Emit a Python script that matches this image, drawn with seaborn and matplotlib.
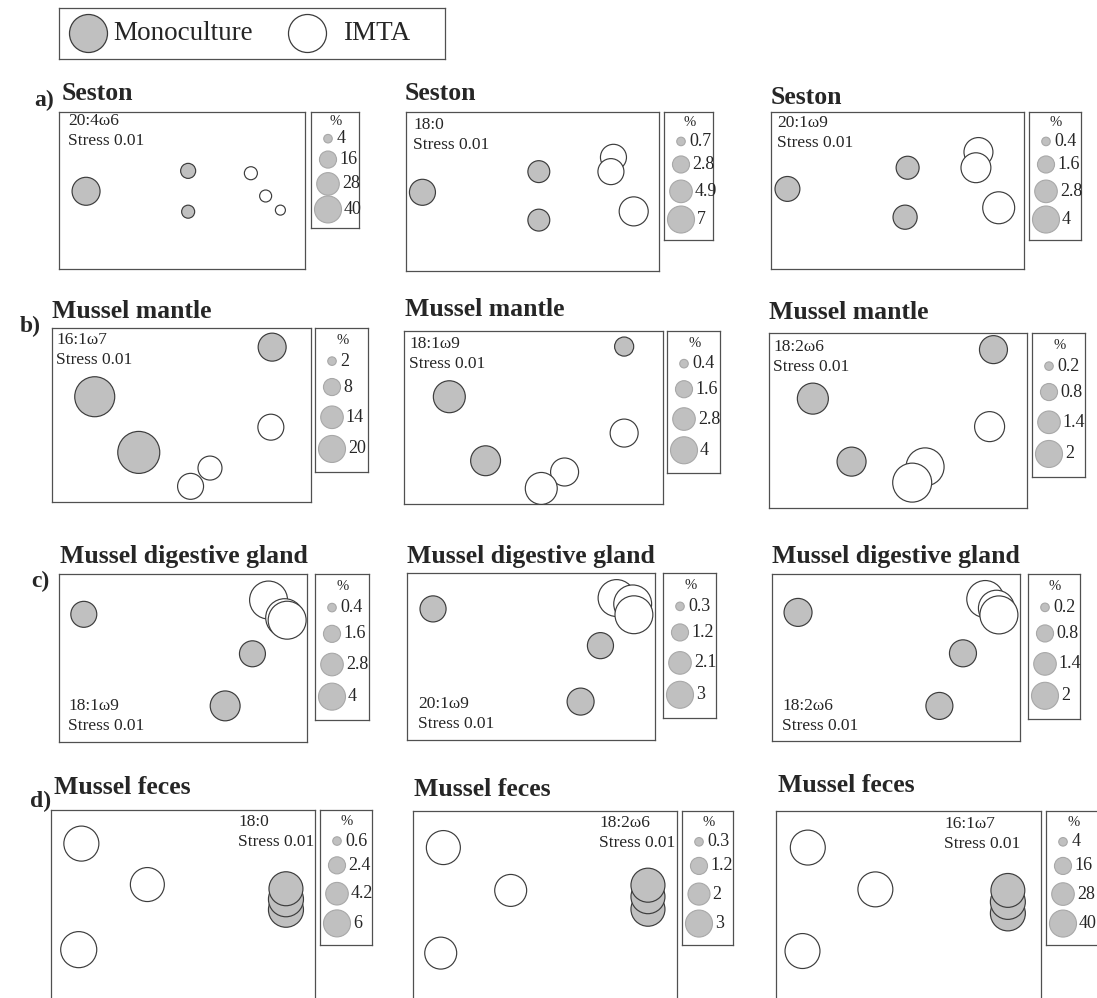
import numpy as np
import pandas as pd
import matplotlib
matplotlib.use("Agg")
import matplotlib.pyplot as plt
import seaborn as sns

sns.set_theme(style="white")
plt.rcParams["font.family"] = ["Liberation Serif", "DejaVu Serif"]

# ---------------------------------------------------------------- data
GROUP_NAMES = {"M": "Monoculture", "I": "IMTA"}

row_titles = ["Seston", "Mussel mantle", "Mussel digestive gland", "Mussel feces"]
row_tags = ["a)", "b)", "c)", "d)"]

fatty_acids = [["20:4ω6", "18:0", "20:1ω9"],
               ["16:1ω7", "18:1ω9", "18:2ω6"],
               ["18:1ω9", "20:1ω9", "18:2ω6"],
               ["18:0", "18:2ω6", "16:1ω7"]]
stress = "Stress 0.01"

# NMDS scores and fatty-acid percentages per sample
a1_nmds1 = [-0.78, 0.05, 0.05, 0.56, 0.68, 0.80]
a1_nmds2 = [-0.01, 0.25, -0.27, 0.22, -0.07, -0.25]
a1_pct = [43.0, 12.4, 9.3, 9.3, 7.9, 5.5]
a1_group = ["M", "M", "M", "I", "I", "I"]

a2_nmds1 = [-0.87, 0.05, 0.05, 0.64, 0.62, 0.80]
a2_nmds2 = [-0.01, 0.25, -0.36, 0.43, 0.25, -0.25]
a2_pct = [6.5, 4.6, 4.6, 6.5, 6.5, 8.1]
a2_group = ["M", "M", "M", "I", "I", "I"]

a3_nmds1 = [-0.87, 0.08, 0.06, 0.64, 0.62, 0.80]
a3_nmds2 = [0.02, 0.29, -0.34, 0.49, 0.29, -0.22]
a3_pct = [3.4, 2.9, 3.2, 4.6, 4.9, 5.6]
a3_group = ["M", "M", "M", "I", "I", "I"]

b1_nmds1 = [0.70, -0.67, -0.33, 0.69, 0.22, 0.07]
b1_nmds2 = [0.78, 0.21, -0.43, -0.14, -0.61, -0.82]
b1_pct = [21.5, 43.9, 48.4, 18.5, 15.8, 18.5]
b1_group = ["M", "M", "M", "I", "I", "I"]

b2_nmds1 = [0.70, -0.65, -0.37, 0.70, 0.24, 0.06]
b2_nmds2 = [0.82, 0.24, -0.50, -0.18, -0.63, -0.82]
b2_pct = [2.0, 5.6, 4.9, 4.3, 4.3, 5.6]
b2_group = ["M", "M", "M", "I", "I", "I"]

b3_nmds1 = [0.74, -0.66, -0.36, 0.71, 0.21, 0.11]
b3_nmds2 = [0.81, 0.25, -0.47, -0.07, -0.53, -0.71]
b3_pct = [2.15, 2.64, 2.31, 2.47, 3.96, 4.17]
b3_group = ["M", "M", "M", "I", "I", "I"]

c1_nmds1 = [-0.80, 0.56, 0.34, 0.69, 0.82, 0.84]
c1_nmds2 = [0.52, 0.05, -0.57, 0.69, 0.48, 0.45]
c1_pct = [3.7, 3.7, 4.9, 7.9, 7.9, 7.9]
c1_group = ["M", "M", "M", "I", "I", "I"]

c2_nmds1 = [-0.79, 0.56, 0.40, 0.69, 0.82, 0.83]
c2_nmds2 = [0.57, 0.13, -0.54, 0.70, 0.63, 0.50]
c2_pct = [2.8, 2.8, 3.0, 5.6, 5.9, 5.9]
c2_group = ["M", "M", "M", "I", "I", "I"]

c3_nmds1 = [-0.79, 0.54, 0.35, 0.72, 0.81, 0.83]
c3_nmds2 = [0.54, 0.05, -0.58, 0.70, 0.59, 0.51]
c3_pct = [2.15, 2.0, 2.0, 3.76, 3.56, 3.96]
c3_group = ["M", "M", "M", "I", "I", "I"]

d1_nmds1 = [-0.77, -0.27, -0.79, 0.78, 0.78, 0.78]
d1_nmds2 = [0.68, 0.29, -0.33, 0.05, 0.15, 0.25]
d1_pct = [10.1, 9.5, 10.7, 10.1, 10.1, 9.5]
d1_group = ["I", "I", "I", "M", "M", "M"]

d2_nmds1 = [-0.77, -0.26, -0.79, 0.78, 0.78, 0.78]
d2_nmds2 = [0.65, 0.24, -0.36, 0.06, 0.18, 0.29]
d2_pct = [4.76, 4.2, 4.2, 4.76, 4.76, 4.76]
d2_group = ["I", "I", "I", "M", "M", "M"]

d3_nmds1 = [-0.76, -0.25, -0.80, 0.75, 0.75, 0.75]
d3_nmds2 = [0.65, 0.25, -0.34, 0.02, 0.13, 0.24]
d3_pct = [67.0, 67.0, 67.0, 67.0, 67.0, 63.0]
d3_group = ["I", "I", "I", "M", "M", "M"]

# bubble-size keys
a1_keys = ["4", "16", "28", "40"]
a2_keys = ["0.7", "2.8", "4.9", "7"]
a3_keys = ["0.4", "1.6", "2.8", "4"]
b1_keys = ["2", "8", "14", "20"]
b2_keys = ["0.4", "1.6", "2.8", "4"]
b3_keys = ["0.2", "0.8", "1.4", "2"]
c1_keys = ["0.4", "1.6", "2.8", "4"]
c2_keys = ["0.3", "1.2", "2.1", "3"]
c3_keys = ["0.2", "0.8", "1.4", "2"]
d1_keys = ["0.6", "2.4", "4.2", "6"]
d2_keys = ["0.3", "1.2", "2", "3"]
d3_keys = ["4", "16", "28", "40"]

samples = {
    "a1": (a1_nmds1, a1_nmds2, a1_pct, a1_group, a1_keys),
    "a2": (a2_nmds1, a2_nmds2, a2_pct, a2_group, a2_keys),
    "a3": (a3_nmds1, a3_nmds2, a3_pct, a3_group, a3_keys),
    "b1": (b1_nmds1, b1_nmds2, b1_pct, b1_group, b1_keys),
    "b2": (b2_nmds1, b2_nmds2, b2_pct, b2_group, b2_keys),
    "b3": (b3_nmds1, b3_nmds2, b3_pct, b3_group, b3_keys),
    "c1": (c1_nmds1, c1_nmds2, c1_pct, c1_group, c1_keys),
    "c2": (c2_nmds1, c2_nmds2, c2_pct, c2_group, c2_keys),
    "c3": (c3_nmds1, c3_nmds2, c3_pct, c3_group, c3_keys),
    "d1": (d1_nmds1, d1_nmds2, d1_pct, d1_group, d1_keys),
    "d2": (d2_nmds1, d2_nmds2, d2_pct, d2_group, d2_keys),
    "d3": (d3_nmds1, d3_nmds2, d3_pct, d3_group, d3_keys),
}

# ---------------------------------------------------------------- layout (pixels)
W, H = 1097, 998
DPI = 100
fig = plt.figure(figsize=(W / DPI, H / DPI), dpi=DPI)

# plot box, key box, title anchor, label anchor
layout = {
    "a1": dict(box=(59, 112, 305, 269), key=(311, 112, 359, 228), title=(62, 93), fa=(68, 121)),
    "a2": dict(box=(406, 112, 659, 271), key=(664, 112, 713, 240), title=(405, 93), fa=(413, 125)),
    "a3": dict(box=(771, 112, 1024, 269), key=(1029, 112, 1081, 240), title=(771, 98), fa=(777, 123)),
    "b1": dict(box=(52, 328, 311, 502), key=(315, 328, 368, 472), title=(52, 311), fa=(56, 340)),
    "b2": dict(box=(404, 331, 663, 504), key=(667, 331, 720, 473), title=(405, 310), fa=(409, 344)),
    "b3": dict(box=(769, 333, 1027, 508), key=(1032, 333, 1085, 477), title=(769, 313), fa=(773, 347)),
    "c1": dict(box=(59, 574, 307, 742), key=(315, 574, 369, 720), title=(60, 557), fa=(68, 706)),
    "c2": dict(box=(407, 573, 655, 740), key=(663, 573, 716, 718), title=(407, 557), fa=(418, 704)),
    "c3": dict(box=(772, 574, 1020, 741), key=(1028, 574, 1080, 719), title=(772, 557), fa=(782, 706)),
    "d1": dict(box=(51, 810, 315, 1020), key=(320, 810, 372, 945), title=(54, 788), fa=(238, 822)),
    "d2": dict(box=(413, 811, 677, 1020), key=(682, 811, 733, 945), title=(414, 790), fa=(599, 823)),
    "d3": dict(box=(776, 811, 1041, 1020), key=(1046, 811, 1100, 945), title=(778, 785), fa=(944, 824)),
}
tag_pos = [(44, 100), (30, 326), (40, 581), (41, 801)]

FILL = "#c0c0c0"
EDGE = "#3c3c3c"
KEY_EDGE = "#a8a8a8"
FRAME = "#505050"
PALETTE = {"Monoculture": FILL, "IMTA": "white"}

R_KEY_PX = 13.5                       # radius of the largest key bubble
S_KEY = (2 * R_KEY_PX * 72 / DPI) ** 2  # marker area (pt^2) of the largest key
STRETCH = 3.0                          # headroom so bubbles above the key maximum are not clipped
KEY_FRAC = [0.23, 0.41, 0.62, 0.84]


def px_axes(l, t, r, b):
    return fig.add_axes([l / W, 1 - b / H, (r - l) / W, (b - t) / H])


def ftext(x, y, s, **kw):
    fig.text(x / W, 1 - y / H, s, **kw)


def style_frame(ax, lw=0.9):
    ax.set(xlabel="", ylabel="", xticks=[], yticks=[])
    for sp in ax.spines.values():
        sp.set_visible(True)
        sp.set_color(FRAME)
        sp.set_linewidth(lw)
    ax.set_facecolor("none")


for row in range(4):
    ftext(*tag_pos[row], row_tags[row], fontsize=17, fontweight="bold", ha="center", va="center")
    for col in range(3):
        key = "abcd"[row] + str(col + 1)
        nm1, nm2, pct, grp, keys = samples[key]
        lay = layout[key]
        key_vals = [float(k) for k in keys]
        vmax = max(key_vals)
        norm = (0, vmax * STRETCH)
        sizes = (0, S_KEY * STRETCH)

        # ordination panel
        ax = px_axes(*lay["box"])
        df = pd.DataFrame({"NMDS1": nm1, "NMDS2": nm2, "pct": pct,
                           "group": [GROUP_NAMES[g] for g in grp]})
        sns.scatterplot(data=df, x="NMDS1", y="NMDS2", hue="group", size="pct",
                        palette=PALETTE, sizes=sizes, size_norm=norm,
                        edgecolor=EDGE, linewidth=0.85, legend=False,
                        clip_on=False, ax=ax, zorder=3)
        ax.set_xlim(-1, 1)
        ax.set_ylim(-1, 1)
        style_frame(ax)

        ftext(*lay["title"], row_titles[row], fontsize=18.5, fontweight="bold",
              ha="left", va="center")
        fx, fy = lay["fa"]
        ftext(fx, fy, fatty_acids[row][col], fontsize=12.5, ha="left", va="center")
        ftext(fx, fy + 20, stress, fontsize=12.5, ha="left", va="center")

        # bubble-size key
        kl, kt, kr, kb = lay["key"]
        kax = px_axes(kl, kt, kr, kb)
        kw, kh = kr - kl, kb - kt
        kdf = pd.DataFrame({"x": [17] * 4, "y": [f * kh for f in KEY_FRAC],
                            "pct": key_vals, "group": ["Monoculture"] * 4})
        sns.scatterplot(data=kdf, x="x", y="y", hue="group", size="pct",
                        palette=PALETTE, sizes=sizes, size_norm=norm,
                        edgecolor=KEY_EDGE, linewidth=0.8, legend=False,
                        clip_on=False, ax=kax)
        kax.set_xlim(0, kw)
        kax.set_ylim(kh, 0)
        style_frame(kax)
        kax.text(kw / 2 + 1, 0.085 * kh, "%", fontsize=10.5, ha="center", va="center")
        for lab, v, yy in zip(keys, key_vals, kdf["y"]):
            r = R_KEY_PX * np.sqrt(v / vmax)
            kax.text(17 + max(r, 6) + 2.5, yy, lab, fontsize=13, ha="left", va="center")

# group legend across the top
lax = px_axes(59, 8, 445, 59)
lax.set_xlim(0, 386)
lax.set_ylim(51, 0)
style_frame(lax)
for gname, gx, tx in [("Monoculture", 29, 54), ("IMTA", 248, 284)]:
    lax.plot([gx], [24.5], marker="o", markersize=2 * 19 * 72 / DPI,
             markerfacecolor=PALETTE[gname], markeredgecolor=EDGE,
             markeredgewidth=0.9, linestyle="none")
    lax.text(tx, 25.5, gname, fontsize=19.5, ha="left", va="center")

fig.savefig("out.png", dpi=DPI)
